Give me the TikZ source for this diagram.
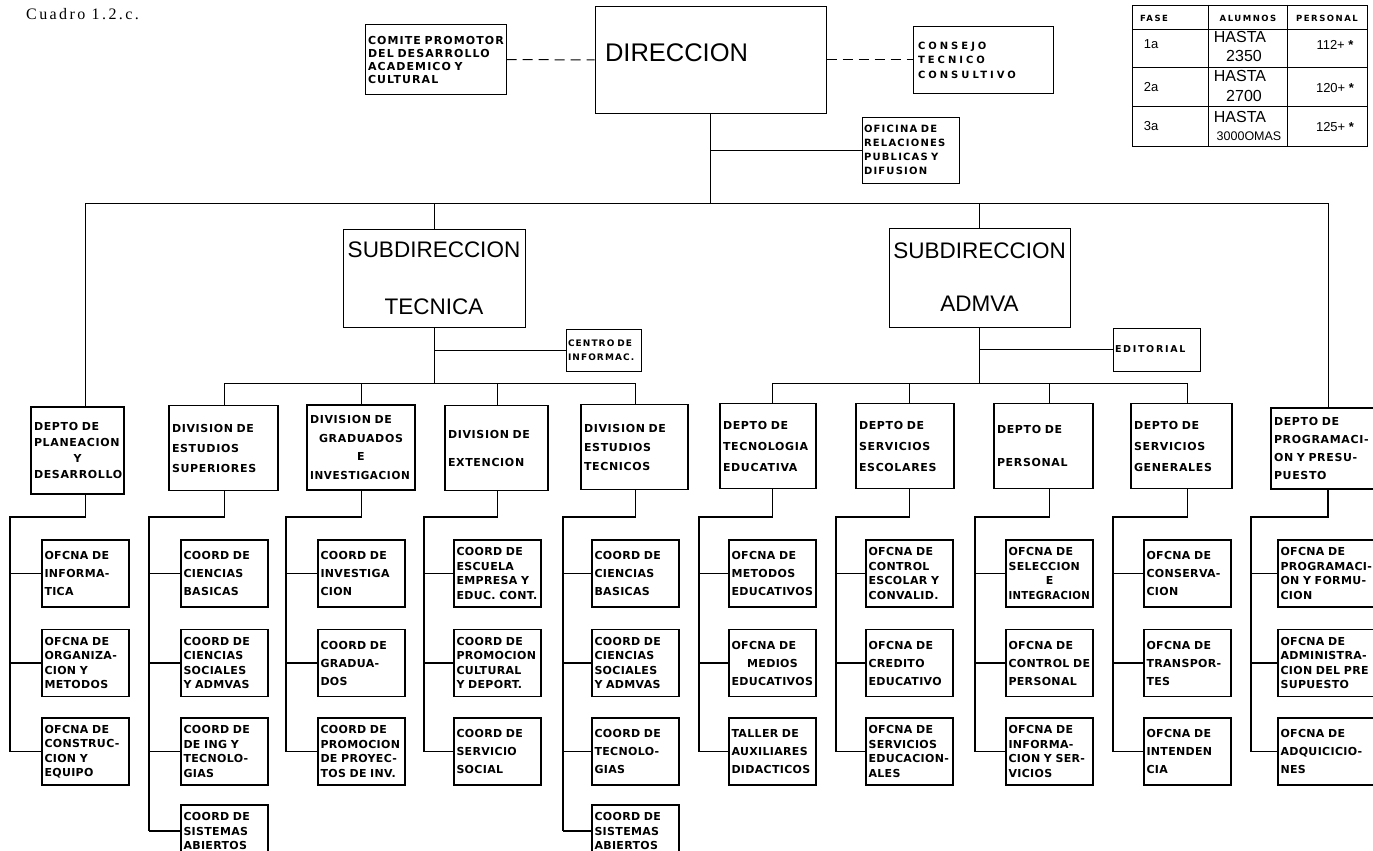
\documentclass[tikz,border=0pt]{standalone}
\usepackage{fontspec}
\usepackage{graphicx}
\setmainfont{DejaVu Sans}
\newfontfamily\subf{DejaVu Sans}[LetterSpace=3]
\newfontfamily\sbxf{DejaVu Sans}[LetterSpace=6]
\newfontfamily\cmtf{DejaVu Sans}[LetterSpace=10]
\newfontfamily\ofif{DejaVu Sans}[LetterSpace=12]
\newfontfamily\wbxf{DejaVu Sans}[LetterSpace=18]
\newfontfamily\wwbxf{DejaVu Sans}[LetterSpace=30]
\newfontfamily\ltf{Liberation Sans}
\newfontfamily\ttlf{Liberation Serif}[LetterSpace=15]
\newcommand\ctr[1]{\hfill#1\hfill\null}
\begin{document}
\begin{tikzpicture}[x=1pt,y=-1pt,
  conn/.style={line width=1pt},
  rail/.style={line width=1.5pt},
  tab/.style={line width=0.9pt},
  dashline/.style={line width=1pt, dash pattern=on 10pt off 6pt},
  note/.style={draw, line width=1pt, inner xsep=3pt, inner ysep=1pt, align=left},
  bigbox/.style={draw, line width=1pt, align=center, inner xsep=3pt, font=\ltf\fontsize{22.5}{57}\selectfont},
  sub/.style={draw, line width=1.2pt, minimum height=67pt, inner xsep=2.5pt, inner ysep=1pt, text width=#1, align=left, font=\subf\bfseries\fontsize{11}{14.5}\selectfont},
  sub/.default=82pt,
  loose/.style={font=\subf\bfseries\fontsize{11}{18}\selectfont},
  dept/.style={draw, line width=1.2pt, minimum height=85pt, inner xsep=3pt, inner ysep=1pt, text width=#1, align=left, font=\sbxf\bfseries\fontsize{11}{21}\selectfont},
  d4/.style={font=\sbxf\bfseries\fontsize{11}{16}\selectfont},
  d2/.style={font=\sbxf\bfseries\fontsize{11}{28}\selectfont},
  tabhead/.style={font=\wbxf\bfseries\fontsize{8.5}{10}\selectfont, inner sep=0pt},
  tabtxt/.style={font=\ltf\fontsize{16}{18}\selectfont, inner sep=0pt},
  tabnum/.style={font=\ltf\fontsize{13}{15}\selectfont, inner sep=0pt}
]
\useasboundingbox (0,0) rectangle (1373,851);
\fill[white] (0,0) rectangle (1373,851);
\clip (0,0) rectangle (1373,851);

% title
\node[anchor=base west, font=\ttlf\fontsize{16}{18}\selectfont, inner sep=0pt] (title) at (26,20) {Cuadro 1.2.c.};

% top level
\node[note, minimum width=141pt, minimum height=69pt, text width=135pt, font=\cmtf\bfseries\fontsize{11}{13}\selectfont] (comite) at (435.5,59.5) {COMITE PROMOTOR\\DEL DESARROLLO\\ACADEMICO Y\\CULTURAL};
\node[draw, line width=1pt, minimum width=231pt, minimum height=106pt, text width=211pt, inner xsep=10pt, align=left, text depth=14pt, font=\ltf\fontsize{25.5}{30}\selectfont] (dir) at (710.5,60) {DIRECCION};
\node[note, minimum width=140pt, minimum height=66pt, text width=130pt, inner xsep=5pt, font=\wwbxf\bfseries\fontsize{10}{14.5}\selectfont] (consejo) at (983,60) {CONSEJO\\TECNICO\\CONSULTIVO};
\node[note, minimum width=97pt, minimum height=66pt, text width=93pt, inner xsep=2pt, font=\ofif\bfseries\fontsize{10}{14}\selectfont] (ofi) at (910.5,150) {OFICINA DE\\RELACIONES\\PUBLICAS Y\\DIFUSION};

\draw[dashline] (comite.east) -- (dir.west);
\draw[dashline] (dir.east) -- (consejo.west);
\draw[conn] (dir.south |- ofi.west) -- (ofi.west);

% table
\draw[tab] (1132,5) rectangle (1367,146);
\draw[tab] (1208,5) -- (1208,146);
\draw[tab] (1287,5) -- (1287,146);
\draw[tab] (1132,29) -- (1367,29);
\draw[tab] (1132,67) -- (1367,67);
\draw[tab] (1132,106) -- (1367,106);
\node[tabhead] (hfase) at (1154,18) {FASE};
\node[tabhead] (halum) at (1248,18) {ALUMNOS};
\node[tabhead] (hpers) at (1327,18) {PERSONAL};
\node[tabnum] (f1) at (1151,44) {1a};
\node[tabtxt] (h1) at (1240,37) {HASTA};
\node[tabtxt] (n1) at (1244,56) {2350};
\node[tabnum] (p1) at (1335,45) {112+ {\bfseries *}};
\node[tabnum] (f2) at (1151,87) {2a};
\node[tabtxt] (h2) at (1240,76) {HASTA};
\node[tabtxt] (n2) at (1244,96) {2700};
\node[tabnum] (p2) at (1335,88) {120+ {\bfseries *}};
\node[tabnum] (f3) at (1151,126) {3a};
\node[tabtxt] (h3) at (1240,117) {HASTA};
\node[tabnum, font=\ltf\fontsize{12.5}{14}\selectfont] (n3) at (1249,136) {3000OMAS};
\node[tabnum] (p3) at (1335,127) {125+ {\bfseries *}};

% subdirecciones
\node[bigbox, minimum width=182pt, minimum height=98pt, text width=176pt] (st) at (434,278) {SUBDIRECCION\\TECNICA};
\node[bigbox, minimum width=181pt, minimum height=99pt, text width=175pt, font=\ltf\fontsize{22.5}{53}\selectfont] (sa) at (979.5,277.5) {SUBDIRECCION\\ADMVA};
\node[note, minimum width=75pt, minimum height=42pt, text width=71pt, inner xsep=2pt, font=\ofif\bfseries\fontsize{9}{14}\selectfont] (centro) at (603.5,350) {CENTRO DE\\INFORMAC.};
\node[note, minimum width=87pt, minimum height=43pt, text width=83pt, inner xsep=2pt, font=\wbxf\bfseries\fontsize{9.5}{11}\selectfont] (edit) at (1156.5,349.5) {EDITORIAL};

% departments / divisions
\node[dept=87pt, minimum height=87pt, d4] (plan) at (77.5,450.5) {DEPTO DE\\PLANEACION\\\ctr{Y}\\DESARROLLO};
\node[dept=103pt, font=\sbxf\bfseries\fontsize{11}{20}\selectfont] (divsup) at (223.5,448) {DIVISION DE\\ESTUDIOS\\SUPERIORES};
\node[dept=102pt, font=\sbxf\bfseries\fontsize{11}{18.5}\selectfont] (divgrad) at (361,447.5) {DIVISION DE\\\ctr{GRADUADOS}\\\ctr{E}\\\scalebox{0.95}[1]{INVESTIGACION}};
\node[dept=97pt, d2] (divext) at (496.5,448) {DIVISION DE\\EXTENCION};
\node[dept=101pt, font=\sbxf\bfseries\fontsize{11}{19}\selectfont] (divtec) at (634.5,447) {DIVISION DE\\ESTUDIOS\\TECNICOS};
\node[dept=90pt] (deptec) at (768,446) {DEPTO DE\\TECNOLOGIA\\EDUCATIVA};
\node[dept=92pt] (servesc) at (905,446) {DEPTO DE\\SERVICIOS\\ESCOLARES};
\node[dept=93pt, font=\sbxf\bfseries\fontsize{11}{33}\selectfont] (pers) at (1043.5,446) {DEPTO DE\\PERSONAL};
\node[dept=95pt] (servgen) at (1181.5,446) {DEPTO DE\\SERVICIOS\\GENERALES};
\node[dept=113pt, minimum height=81pt, font=\sbxf\bfseries\fontsize{11}{18}\selectfont] (prog) at (1330.5,448.5) {DEPTO DE\\PROGRAMACI-\\ON Y PRESU-\\PUESTO};

% sub offices
\node[sub, loose] (A1) at (85.5,573.5) {OFCNA DE\\INFORMA-\\TICA};
\node[sub] (A2) at (85.5,663) {OFCNA DE\\ORGANIZA-\\CION Y\\METODOS};
\node[sub] (A3) at (85.5,751.5) {OFCNA DE\\CONSTRUC-\\CION Y\\EQUIPO};

\node[sub, loose] (B1) at (224.5,573.5) {COORD DE\\CIENCIAS\\BASICAS};
\node[sub] (B2) at (224.5,663) {COORD DE\\CIENCIAS\\SOCIALES\\Y ADMVAS};
\node[sub] (B3) at (224.5,751.5) {COORD DE\\DE ING Y\\TECNOLO-\\GIAS};
\node[sub, minimum height=52pt] (B4) at (224.5,831) {COORD DE\\SISTEMAS\\ABIERTOS};

\node[sub, loose] (C1) at (361.5,573.5) {COORD DE\\INVESTIGA\\CION};
\node[sub, loose] (C2) at (361.5,663) {COORD DE\\GRADUA-\\DOS};
\node[sub] (C3) at (361.5,751.5) {COORD DE\\PROMOCION\\DE PROYEC-\\TOS DE INV.};

\node[sub] (D1) at (497.5,573.5) {COORD DE\\ESCUELA\\EMPRESA Y\\EDUC. CONT.};
\node[sub] (D2) at (497.5,663) {COORD DE\\PROMOCION\\CULTURAL\\Y DEPORT.};
\node[sub, loose] (D3) at (497.5,751.5) {COORD DE\\SERVICIO\\SOCIAL};

\node[sub, loose] (E1) at (635.5,573.5) {COORD DE\\CIENCIAS\\BASICAS};
\node[sub] (E2) at (635.5,663) {COORD DE\\CIENCIAS\\SOCIALES\\Y ADMVAS};
\node[sub, loose] (E3) at (635.5,751.5) {COORD DE\\TECNOLO-\\GIAS};
\node[sub, minimum height=52pt] (E4) at (635.5,831) {COORD DE\\SISTEMAS\\ABIERTOS};

\node[sub, loose] (F1) at (772.5,573.5) {OFCNA DE\\METODOS\\EDUCATIVOS};
\node[sub, loose] (F2) at (772.5,663) {OFCNA DE\\\ctr{MEDIOS}\\EDUCATIVOS};
\node[sub, loose] (F3) at (772.5,751.5) {TALLER DE\\AUXILIARES\\DIDACTICOS};

\node[sub] (G1) at (909.5,573.5) {OFCNA DE\\CONTROL\\ESCOLAR Y\\CONVALID.};
\node[sub, loose] (G2) at (909.5,663) {OFCNA DE\\CREDITO\\EDUCATIVO};
\node[sub] (G3) at (909.5,751.5) {OFCNA DE\\SERVICIOS\\EDUCACION-\\ALES};

\node[sub] (H1) at (1049.5,573.5) {OFCNA DE\\SELECCION\\\ctr{E}\\\scalebox{0.92}[1]{INTEGRACION}};
\node[sub, loose] (H2) at (1049.5,663) {OFCNA DE\\CONTROL DE\\PERSONAL};
\node[sub] (H3) at (1049.5,751.5) {OFCNA DE\\INFORMA-\\CION Y SER-\\VICIOS};

\node[sub, loose] (I1) at (1187.5,573.5) {OFCNA DE\\CONSERVA-\\CION};
\node[sub, loose] (I2) at (1187.5,663) {OFCNA DE\\TRANSPOR-\\TES};
\node[sub, loose] (I3) at (1187.5,751.5) {OFCNA DE\\INTENDEN\\CIA};

\node[sub=95pt] (J1) at (1328,573.5) {OFCNA DE\\PROGRAMACI-\\ON Y FORMU-\\CION};
\node[sub=95pt] (J2) at (1328,663) {OFCNA DE\\ADMINISTRA-\\CION DEL PRE\\SUPUESTO};
\node[sub=95pt, loose] (J3) at (1328,751.5) {OFCNA DE\\ADQUICICIO-\\NES};

% main bar
\coordinate (barL) at (85.5,203);
\coordinate (barR) at (1328,203);
\draw[conn] (barL) -- (barR);
\draw[conn] (dir.south) -- (dir.south |- barL);
\draw[conn] (barL) -- (barL |- plan.north);
\draw[conn] (barR) -- (barR |- prog.north);
\draw[conn] (st.north |- barL) -- (st.north);
\draw[conn] (sa.north |- barL) -- (sa.north);

% tecnica branch
\coordinate (tbar) at (434,383);
\draw[conn] (st.south) -- (st.south |- tbar);
\draw[conn] (st.south |- centro.west) -- (centro.west);
\draw[conn] (tbar -| B1.north) -- (tbar -| E1.north);
\foreach \d/\s in {divsup/B1, divgrad/C1, divext/D1, divtec/E1}
  \draw[conn] (tbar -| \s.north) -- (\d.north -| \s.north);

% admva branch
\coordinate (abar) at (979.5,383);
\draw[conn] (sa.south) -- (sa.south |- abar);
\draw[conn] (sa.south |- edit.west) -- (edit.west);
\draw[conn] (abar -| F1.north) -- (abar -| I1.north);
\foreach \d/\s in {deptec/F1, servesc/G1, pers/H1, servgen/I1}
  \draw[conn] (abar -| \s.north) -- (\d.north -| \s.north);

% rails
\coordinate (jA) at (10,517);
\coordinate (jB) at (149,517);
\coordinate (jC) at (286,517);
\coordinate (jD) at (424,517);
\coordinate (jE) at (563,517);
\coordinate (jF) at (699,517);
\coordinate (jG) at (836,517);
\coordinate (jH) at (975,517);
\coordinate (jI) at (1113,517);
\coordinate (jJ) at (1251,517);
\foreach \d/\c/\last/\subs in {plan/A/A3/{A1,A2,A3}, divsup/B/B4/{B1,B2,B3,B4}, divgrad/C/C3/{C1,C2,C3}, divext/D/D3/{D1,D2,D3}, divtec/E/E4/{E1,E2,E3,E4}, deptec/F/F3/{F1,F2,F3}, servesc/G/G3/{G1,G2,G3}, pers/H/H3/{H1,H2,H3}, servgen/I/I3/{I1,I2,I3}, prog/J/J3/{J1,J2,J3}}{
  \draw[rail] (\d.south -| \c1.north) -- (j\c -| \c1.north) -- (j\c) -- (j\c |- \last.west);
  \foreach \s in \subs {\draw[rail] (j\c |- \s.west) -- (\s.west);}
}
\end{tikzpicture}
\end{document}
